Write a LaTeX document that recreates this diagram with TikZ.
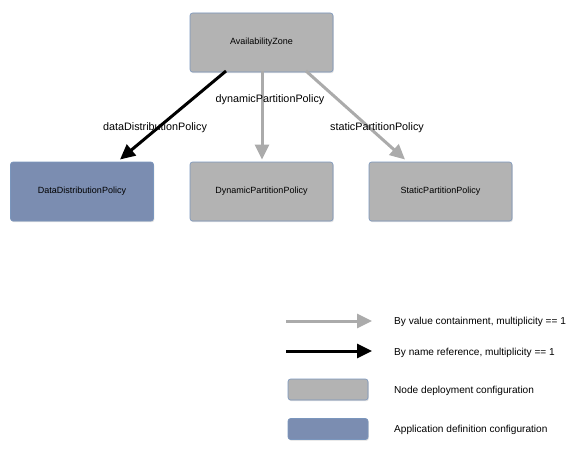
\documentclass[tikz,border=0pt]{standalone}
\usepackage{fontspec}
\setmainfont{Liberation Sans}
\usetikzlibrary{arrows.meta,shadows}
\definecolor{boxgray}{HTML}{B3B3B3}
\definecolor{boxblue}{HTML}{7B8DB1}
\definecolor{boxedge}{HTML}{7A96BD}
\definecolor{arrgray}{HTML}{ABABAB}
\tikzset{
  box/.style={draw=boxedge, line width=0.6pt, rounded corners=2.5pt, fill=boxgray,
    drop shadow={shadow xshift=0.8pt, shadow yshift=-1.2pt, opacity=0.25},
    minimum width=143pt, minimum height=59pt, inner sep=0pt, font=\fontsize{9}{10}\selectfont},
  bluebox/.style={box, fill=boxblue},
  legbox/.style={box, minimum width=80pt, minimum height=21pt},
  legblue/.style={legbox, fill=boxblue},
  grayarr/.style={draw=arrgray, line width=3pt, -{Triangle[length=15pt,width=14pt]}},
  blackarr/.style={draw=black, line width=3pt, -{Triangle[length=15pt,width=14pt]}},
  lbl/.style={font=\fontsize{10.8}{12}\selectfont, inner sep=0pt},
  legtxt/.style={font=\fontsize{10.1}{11}\selectfont, anchor=west, inner sep=0pt},
}
\begin{document}
\begin{tikzpicture}[x=1pt,y=-1pt]
\useasboundingbox (0,0) rectangle (583,452);
\node[box] (az) at (261.5,42.5) {AvailabilityZone};
\node[bluebox] (ddp) at (82,191.5) {DataDistributionPolicy};
\node[box] (dpp) at (261.5,191.5) {DynamicPartitionPolicy};
\node[box] (spp) at (440.5,191.5) {StaticPartitionPolicy};
\coordinate (a1) at (226,71);
\coordinate (b1) at (120,159.5);
\coordinate (a2) at (262,71);
\coordinate (b2) at (262,159.5);
\coordinate (a3) at (306,71);
\coordinate (b3) at (405,159.5);
\draw[blackarr] (a1) -- (b1);
\draw[grayarr] (a2) -- (b2);
\draw[grayarr] (a3) -- (b3);
\node[lbl] (l1) at (155,128) {dataDistributionPolicy};
\node[lbl] (l2) at (270,100) {dynamicPartitionPolicy};
\node[lbl] (l3) at (377,128) {staticPartitionPolicy};
% legend
\coordinate (g1) at (286,321);
\coordinate (g2) at (372,321);
\coordinate (k1) at (286,351);
\coordinate (k2) at (372,351);
\draw[grayarr] (g1) -- (g2);
\draw[blackarr] (k1) -- (k2);
\node[legbox] (lg) at (328,389.5) {};
\node[legblue] (lb) at (328,429) {};
\node[legtxt] (t1) at (394,322) {By value containment, multiplicity == 1};
\node[legtxt] (t2) at (394,353) {By name reference, multiplicity == 1};
\node[legtxt] (t3) at (394,390.5) {Node deployment configuration};
\node[legtxt] (t4) at (394,430) {Application definition configuration};
\end{tikzpicture}
\end{document}
